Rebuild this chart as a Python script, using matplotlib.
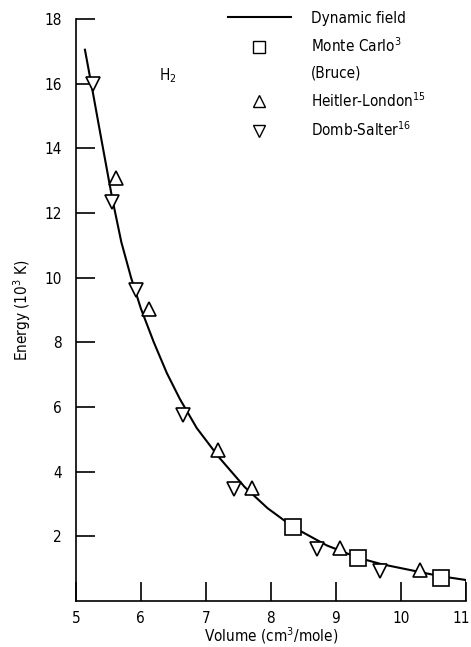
import matplotlib
matplotlib.use("Agg")
import matplotlib.pyplot as plt
import matplotlib.transforms as mtransforms
from matplotlib.lines import Line2D

plt.rcParams.update({
    "font.family": ["DejaVu Sans"],
    "font.stretch": "condensed",
    "font.size": 11,
})

# Dynamic field curve
curve_v = [5.14, 5.26, 5.40, 5.56, 5.70, 5.85, 6.00, 6.20, 6.40, 6.60, 6.86,
           7.20, 7.60, 7.95, 8.35, 8.86, 9.34, 9.70, 10.09, 10.60, 11.00]
curve_E = [17.05, 15.75, 14.20, 12.45, 11.10, 10.00, 9.05, 8.00, 7.05, 6.25, 5.35,
           4.45, 3.52, 2.87, 2.28, 1.72, 1.34, 1.14, 0.98, 0.77, 0.65]

mc_v = [8.34, 9.34, 10.62]
mc_E = [2.29, 1.33, 0.71]

hl_v = [5.62, 6.12, 7.19, 7.71, 9.06, 10.29]
hl_E = [13.08, 9.02, 4.67, 3.49, 1.64, 0.96]

ds_v = [5.26, 5.56, 5.92, 6.65, 7.43, 8.71, 9.68]
ds_E = [16.0, 12.35, 9.61, 5.75, 3.46, 1.61, 0.93]

xticks = [5, 6, 7, 8, 9, 10, 11]
yticks = [2, 4, 6, 8, 10, 12, 14, 16, 18]

fig = plt.figure(figsize=(4.71, 6.47), dpi=100)
ax = fig.add_axes([0.161, 0.0711, 0.828, 0.8995])

ax.plot(curve_v, curve_E, color="black", lw=1.5)
ax.plot(mc_v, mc_E, ls="none", marker="s", ms=12, mfc="white", mec="black", mew=1.2)
ax.plot(hl_v, hl_E, ls="none", marker="^", ms=10, mfc="white", mec="black", mew=1.2)
ax.plot(ds_v, ds_E, ls="none", marker="v", ms=10, mfc="white", mec="black", mew=1.2)

# short right edge closing the frame at the curve end
ax.vlines(curve_v[-1], 0, curve_E[-1], color="black", lw=1.2)

ax.set_xlim(5, 11)
ax.set_ylim(0, 18)
ax.set_xticks(xticks)
ax.set_yticks(yticks)
ax.spines["top"].set_visible(False)
ax.spines["right"].set_visible(False)
for s in ("left", "bottom"):
    ax.spines[s].set_linewidth(1.2)
ax.tick_params(direction="in", length=14, width=1.2, labelsize=11)
ax.tick_params(axis="x", pad=7)
ax.tick_params(axis="y", pad=10)

# keep the last x label inside the picture
last = ax.get_xticklabels()[-1]
last.set_transform(last.get_transform() +
                   mtransforms.ScaledTranslation(-3 / 72, 0, fig.dpi_scale_trans))

ax.set_xlabel("Volume (cm$^3$/mole)", fontsize=11, labelpad=0)
ax.set_ylabel("Energy (10$^3$ K)", fontsize=11, labelpad=8)

ax.text(6.42, 16.26, "H$_2$", fontsize=11, ha="center", va="center")

handles = [
    Line2D([], [], color="black", lw=1.5),
    Line2D([], [], ls="none", marker="s", ms=8, mfc="white", mec="black", mew=1.0),
    Line2D([], [], ls="none"),
    Line2D([], [], ls="none", marker="^", ms=8, mfc="white", mec="black", mew=1.0),
    Line2D([], [], ls="none", marker="v", ms=8, mfc="white", mec="black", mew=1.0),
]
labels = ["Dynamic field", "Monte Carlo$^3$", "(Bruce)",
          "Heitler-London$^{15}$", "Domb-Salter$^{16}$"]
ax.legend(handles, labels, loc="upper left", bbox_to_anchor=(0.355, 1.038),
          frameon=False, handlelength=4.1, handletextpad=1.3,
          labelspacing=0.69, fontsize=11)

fig.savefig("out.png", dpi=100)
